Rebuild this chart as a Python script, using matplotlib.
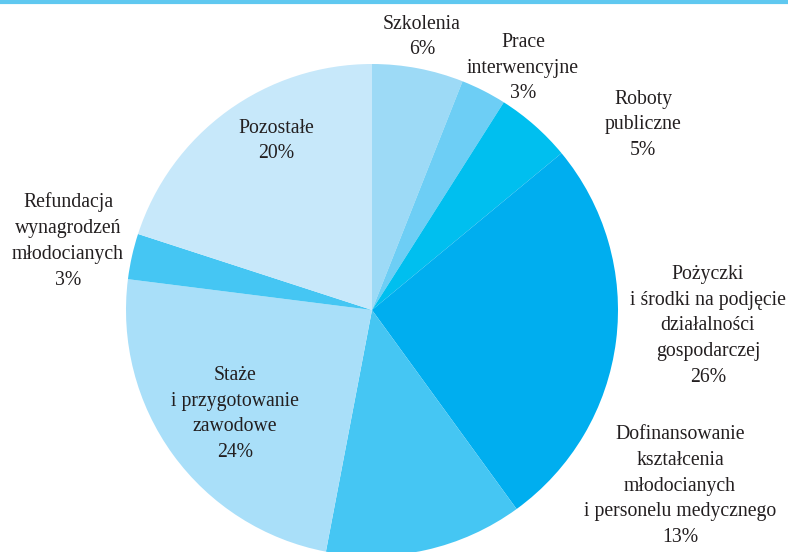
import matplotlib.pyplot as plt

labels = ['Szkolenia\n6%', 'Prace\ninterwencyjne\n3%', 'Roboty\npubliczne\n5%',
          'Pożyczki\ni środki na podjęcie\ndziałalności\ngospodarczej\n26%',
          'Dofinansowanie\nkształcenia\nmłodocianych\ni personelu medycznego\n13%',
          'Staże\ni przygotowanie\nzawodowe\n24%',
          'Refundacja\nwynagrodzeń\nmłodocianych\n3%',
          'Pozostałe\n20%']
shares = [6, 3, 5, 26, 13, 24, 3, 20]
colors = ['#9ddaf6', '#6dcef5', '#00bfef', '#00aeef', '#45c6f3', '#a9dff9', '#45c6f3', '#c7e8fa']
# label centres in pixels (x, y from top)
label_pos = [(422, 37), (523, 68), (643, 125), (708, 326), (680, 486), (235, 414), (68, 241), (276, 141)]

W, H = 788, 552
fig = plt.figure(figsize=(W / 100, H / 100), dpi=100)
ax = fig.add_axes([0, 0, 1, 1])
ax.pie(shares, colors=colors, startangle=90, counterclock=False,
       center=(372, H - 310), radius=246, frame=True)
ax.set_aspect('auto')
ax.set_xlim(0, W)
ax.set_ylim(0, H)
ax.axis('off')

for txt, (x, y) in zip(labels, label_pos):
    ax.text(x, H - y, txt, ha='center', va='center', fontsize=14.2,
            family='Liberation Serif', color='#231f20', linespacing=1.48)

# thin blue rule at the top
ax.axhline(H - 1.5, color='#5fc8f0', lw=3)

fig.savefig('out.png', dpi=100)
